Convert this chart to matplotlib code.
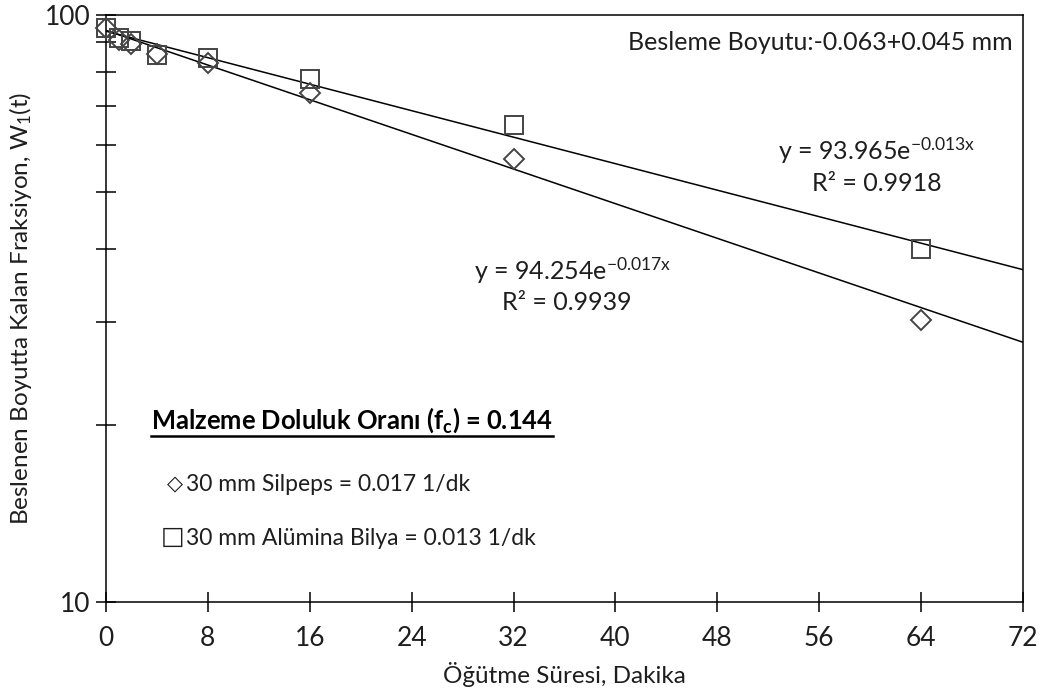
import numpy as np
import matplotlib
matplotlib.use("Agg")
import matplotlib.pyplot as plt
from matplotlib.lines import Line2D

plt.rcParams['font.family'] = ['Lato', 'DejaVu Sans']
plt.rcParams['mathtext.fontset'] = 'custom'
plt.rcParams['mathtext.rm'] = 'Lato'
plt.rcParams['mathtext.it'] = 'Lato'
plt.rcParams['mathtext.bf'] = 'Lato:bold'

# grinding time (min) and fraction remaining in feed size
time_min = [0, 1, 2, 4, 8, 16, 32, 64]
silpeps = [95.1, 90.9, 89.5, 85.9, 82.8, 73.6, 57.0, 30.2]
alumina = [95.1, 91.6, 90.3, 85.7, 84.7, 77.8, 64.9, 40.0]

# exponential trendline coefficients (y = a * e^(b x))
fit_silpeps = (94.254, -0.017)
fit_alumina = (93.965, -0.013)
r2_silpeps = 0.9939
r2_alumina = 0.9918

x_ticks = [0, 8, 16, 24, 32, 40, 48, 56, 64, 72]

txt_col = '#1e1e1e'
mk_col = '#444444'

fig = plt.figure(figsize=(10.39, 6.96), dpi=100)
ax = fig.add_axes([0.102, 0.135, 0.8826, 0.843])

xx = np.linspace(0, 72, 200)
for a, b in (fit_silpeps, fit_alumina):
    ax.plot(xx, a * np.exp(b * xx), color='black', lw=1.1, zorder=2)

ax.plot(time_min, silpeps, linestyle='none', marker='D', ms=10.5,
        mfc='none', mec=mk_col, mew=1.4, zorder=3, clip_on=False)
ax.plot(time_min, alumina, linestyle='none', marker='s', ms=13,
        mfc='none', mec=mk_col, mew=1.4, zorder=3, clip_on=False)

ax.set_yscale('log')
ax.set_ylim(10, 100)
ax.set_xlim(0, 72)
ax.set_xticks(x_ticks)
ax.set_yticks([10, 100])
ax.set_yticklabels(['10', '100'])
ax.yaxis.set_minor_formatter(matplotlib.ticker.NullFormatter())
ax.tick_params(axis='both', which='both', direction='inout', colors='black',
               labelcolor=txt_col, labelsize=19, width=1.1)
ax.tick_params(axis='both', which='major', length=14, pad=10)
ax.tick_params(axis='y', which='minor', length=14)
ax.tick_params(axis='y', pad=4)
for s in ax.spines.values():
    s.set_linewidth(1.1)
    s.set_color('black')

ax.set_xlabel('Öğütme Süresi, Dakika', fontsize=17.5, color=txt_col, labelpad=8)
ax.set_ylabel(r'Beslenen Boyutta Kalan Fraksiyon, W$_\mathregular{1}$(t)',
              fontsize=17.5, color=txt_col, labelpad=8)

ax.text(0.989, 0.954, 'Besleme Boyutu:-0.063+0.045 mm', transform=ax.transAxes,
        ha='right', va='center', fontsize=18, color=txt_col)

ax.text(0.841, 0.770,
        r'y = %.3fe$^{\mathregular{%.3fx}}$' % (fit_alumina[0], fit_alumina[1]),
        transform=ax.transAxes, ha='center', va='center', fontsize=18, color=txt_col)
ax.text(0.841, 0.713, 'R² = %.4f' % r2_alumina, transform=ax.transAxes,
        ha='center', va='center', fontsize=18, color=txt_col)
ax.text(0.509, 0.565,
        r'y = %.3fe$^{\mathregular{%.3fx}}$' % (fit_silpeps[0], fit_silpeps[1]),
        transform=ax.transAxes, ha='center', va='center', fontsize=18, color=txt_col)
ax.text(0.502, 0.510, 'R² = %.4f' % r2_silpeps, transform=ax.transAxes,
        ha='center', va='center', fontsize=18, color=txt_col)

title = ax.text(0.049, 0.309, r'Malzeme Doluluk Oranı (f$_\mathregular{c}$) = 0.144',
                transform=ax.transAxes, ha='left', va='center', fontsize=18.4,
                fontweight='bold', color='black')

ax.text(0.066, 0.201, '◇', transform=ax.transAxes, ha='left', va='center',
        fontsize=15, color=txt_col, family='DejaVu Sans')
ax.text(0.087, 0.201, '30 mm Silpeps = 0.017 1/dk', transform=ax.transAxes,
        ha='left', va='center', fontsize=16.5, color=txt_col)
ax.text(0.060, 0.111, '□', transform=ax.transAxes, ha='left', va='center',
        fontsize=18, color=txt_col, family='DejaVu Sans')
ax.text(0.087, 0.1075, '30 mm Alümina Bilya = 0.013 1/dk', transform=ax.transAxes,
        ha='left', va='center', fontsize=16.5, color=txt_col)

# underline the bold heading
fig.canvas.draw()
bb = title.get_window_extent()
inv = fig.transFigure.inverted()
(x0, y0), (x1, _) = inv.transform([(bb.x0, bb.y0 - 1), (bb.x1, bb.y0)])
fig.add_artist(Line2D([x0, x1], [y0, y0], transform=fig.transFigure,
                      color='black', lw=1.8))

fig.savefig('out.png', dpi=100)
